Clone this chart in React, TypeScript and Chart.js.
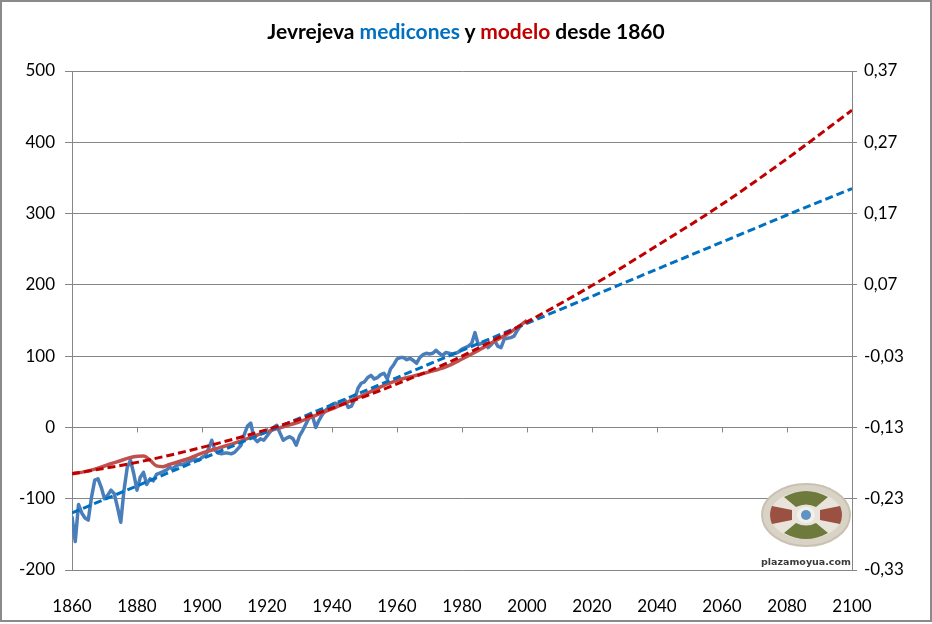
import React, { useEffect, useRef } from "react";
import { Chart, registerables } from "chart.js";
Chart.register(...registerables);

// ---- Data ----
const measuredStartYear = 1860;
const measuredValues = [
  -125, -160, -108, -120, -127, -130, -98, -74, -72, -84,
  -100, -95, -88, -93, -112, -133, -88, -56, -46, -65,
  -88, -70, -63, -80, -72, -75, -66, -64, -62, -60,
  -56, -58, -54, -52, -52, -50, -48, -46, -44, -46,
  -42, -40, -30, -18, -32, -36, -37, -36, -36, -37,
  -35, -30, -25, -10, 2, 6, -15, -20, -16, -18,
  -12, -6, 0, 3, -8, -18, -15, -13, -16, -25,
  -12, -4, 5, 14, 16, 0, 10, 18, 24, 28,
  32, 34, 32, 36, 38, 28, 30, 40, 55, 62,
  64, 70, 73, 68, 70, 74, 76, 68, 82, 88,
  96, 98, 98, 95, 97, 94, 90, 98, 102, 104,
  103, 104, 108, 104, 101, 105, 104, 103, 104, 106,
  110, 112, 114, 118, 133, 116, 118, 119, 112, 116,
  122, 114, 112, 124, 125, 126, 128, 136, 143,
];

const modelYears = [
  1860, 1864, 1868, 1872, 1876, 1879, 1882, 1884, 1886, 1888, 1890, 1895,
  1900, 1905, 1910, 1915, 1920, 1925, 1930, 1935, 1940, 1945, 1950, 1955,
  1960, 1965, 1970, 1975, 1980, 1985, 1990, 1995, 2000,
];
const modelValues = [
  -65, -62, -57, -51, -45, -41, -40, -46, -54, -55, -52, -45,
  -36, -29, -22, -14, -6, 1, 8, 17, 26, 36, 46, 57,
  66, 72, 78, 85, 96, 108, 121, 134, 150,
];

const trendYears = [1860, 1880, 1900, 1920, 1940, 1960, 1980, 2000, 2020, 2040, 2060, 2080, 2100];
const measuredTrend = [-120, -82, -44, -6, 32, 70, 108, 146, 184, 222, 260, 298, 335];
const modelTrend = [-65, -49, -28, -3, 27, 61, 100, 148, 199, 255, 313, 377, 445];

const leftTicks = [-200, -100, 0, 100, 200, 300, 400, 500];
const rightTicks = [-0.33, -0.23, -0.13, -0.03, 0.07, 0.17, 0.27, 0.37];
const xTicks = [1860, 1880, 1900, 1920, 1940, 1960, 1980, 2000, 2020, 2040, 2060, 2080, 2100];

const GRID = "#868686";
const FONT = "Lato, 'Open Sans', sans-serif";

const zeroAxisTicks = {
  id: "zeroAxisTicks",
  afterDatasetsDraw(chart: any) {
    const { ctx, scales } = chart;
    const x = scales.x;
    const y = scales.y;
    const y0 = y.getPixelForValue(0);
    ctx.save();
    ctx.strokeStyle = GRID;
    ctx.lineWidth = 1;
    ctx.beginPath();
    xTicks.forEach((t) => {
      if (t === xTicks[0]) return;
      const px = Math.round(x.getPixelForValue(t)) + 0.5;
      ctx.moveTo(px, y0);
      ctx.lineTo(px, y0 + 5);
    });
    ctx.stroke();
    ctx.restore();
  },
};

function ChartCanvas() {
  const ref = useRef<HTMLCanvasElement | null>(null);
  useEffect(() => {
    document.body.style.margin = "0";
    const measuredPts = measuredValues.map((v, i) => ({ x: measuredStartYear + i, y: v }));
    const modelPts = modelYears.map((yr, i) => ({ x: yr, y: modelValues[i] }));
    const mTrendPts = trendYears.map((yr, i) => ({ x: yr, y: measuredTrend[i] }));
    const rTrendPts = trendYears.map((yr, i) => ({ x: yr, y: modelTrend[i] }));
    const chart = new Chart(ref.current as HTMLCanvasElement, {
      type: "line",
      data: {
        datasets: [
          {
            label: "mediciones",
            data: measuredPts,
            borderColor: "#4A7EBB",
            borderWidth: 3.5,
            pointRadius: 0,
            order: 3,
            borderJoinStyle: "round",
          },
          {
            label: "modelo",
            data: modelPts,
            borderColor: "#C0504D",
            borderWidth: 3.5,
            pointRadius: 0,
            cubicInterpolationMode: "monotone",
            order: 2,
          },
          {
            label: "tendencia mediciones",
            data: mTrendPts,
            borderColor: "#0070C0",
            borderWidth: 3,
            borderDash: [8, 4],
            pointRadius: 0,
            order: 1,
          },
          {
            label: "tendencia modelo",
            data: rTrendPts,
            borderColor: "#C00000",
            borderWidth: 3,
            borderDash: [8, 4],
            pointRadius: 0,
            cubicInterpolationMode: "monotone",
            order: 0,
          },
        ],
      },
      options: {
        responsive: false,
        animation: false,
        events: [],
        layout: { padding: { top: 71, left: 0, right: 0, bottom: 0 } },
        plugins: { legend: { display: false }, tooltip: { enabled: false }, title: { display: false } },
        scales: {
          x: {
            type: "linear",
            min: 1860,
            max: 2100,
            afterBuildTicks: (axis: any) => {
              axis.ticks = xTicks.map((v) => ({ value: v }));
            },
            afterFit: (axis: any) => {
              axis.height = 54;
            },
            grid: { display: false, drawTicks: false },
            border: { display: false },
            ticks: {
              padding: 26,
              maxRotation: 0,
              autoSkip: false,
              color: "#000",
              font: { family: FONT, size: 17 },
              callback: (v: any) => String(v),
            },
          },
          y: {
            position: "left",
            min: -200,
            max: 500,
            afterBuildTicks: (axis: any) => {
              axis.ticks = leftTicks.map((v) => ({ value: v }));
            },
            afterFit: (axis: any) => {
              axis.width = 72;
            },
            grid: { color: GRID, lineWidth: 1, tickLength: 7, drawTicks: true },
            border: { display: true, color: GRID, width: 1 },
            ticks: {
              padding: 10,
              color: "#000",
              font: { family: FONT, size: 17 },
              callback: (v: any) => String(v),
            },
          },
          y2: {
            position: "right",
            min: -0.33,
            max: 0.37,
            afterBuildTicks: (axis: any) => {
              axis.ticks = rightTicks.map((v) => ({ value: v }));
            },
            afterFit: (axis: any) => {
              axis.width = 80;
            },
            grid: { drawOnChartArea: false, color: GRID, tickLength: 5, drawTicks: true },
            border: { display: true, color: GRID, width: 1 },
            ticks: {
              padding: 7,
              color: "#000",
              font: { family: FONT, size: 17 },
              callback: (v: any) => Number(v).toFixed(2).replace(".", ","),
            },
          },
        },
      },
      plugins: [zeroAxisTicks],
    } as any);
    return () => chart.destroy();
  }, []);
  return <canvas ref={ref} width={932} height={624} style={{ display: "block", width: 932, height: 624 }} />;
}

function Logo() {
  return (
    <div style={{ position: "absolute", left: 758, top: 480, width: 96, height: 88, pointerEvents: "none" }}>
      <svg width={96} height={70} viewBox="0 0 96 70">
        <ellipse cx={48} cy={35} rx={44} ry={31} fill="#d9d3c6" stroke="#c9c2b4" strokeWidth={2} />
        <ellipse cx={48} cy={35} rx={36} ry={24} fill="#e8e4dc" />
        <path d="M26 17 Q48 5 70 17 L58 27 Q48 22 38 27 Z" fill="#6d7a3c" />
        <path d="M26 53 Q48 65 70 53 L58 43 Q48 48 38 43 Z" fill="#6d7a3c" />
        <path d="M14 26 L34 30 L34 40 L14 44 Q10 35 14 26 Z" fill="#9b5142" />
        <path d="M82 26 L62 30 L62 40 L82 44 Q86 35 82 26 Z" fill="#9b5142" />
        <ellipse cx={48} cy={35} rx={9} ry={8} fill="#f2f0ea" />
        <circle cx={48} cy={35} r={5} fill="#5f93c4" />
      </svg>
      <div style={{ fontFamily: "'DejaVu Sans', sans-serif", fontSize: 9.5, fontWeight: "bold", color: "#3a3a3a", textAlign: "center", marginTop: 2 }}>
        plazamoyua.com
      </div>
    </div>
  );
}

export default function App() {
  return (
    <div style={{ position: "relative", width: 932, height: 624, background: "#fff", overflow: "hidden" }}>
      <ChartCanvas />
      <div
        style={{
          position: "absolute",
          left: 0,
          top: 16,
          width: 932,
          textAlign: "center",
          fontFamily: FONT,
          fontWeight: "bold",
          fontSize: 21,
          lineHeight: "30px",
          color: "#000",
          pointerEvents: "none",
        }}
      >
        Jevrejeva <span style={{ color: "#0070C0" }}>medicones</span> y <span style={{ color: "#C00000" }}>modelo</span> desde 1860
      </div>
      <Logo />
      <div
        style={{
          position: "absolute",
          left: 0,
          top: 0,
          width: 932,
          height: 622,
          boxSizing: "border-box",
          border: "2px solid #8a8a8a",
          pointerEvents: "none",
        }}
      />
    </div>
  );
}
